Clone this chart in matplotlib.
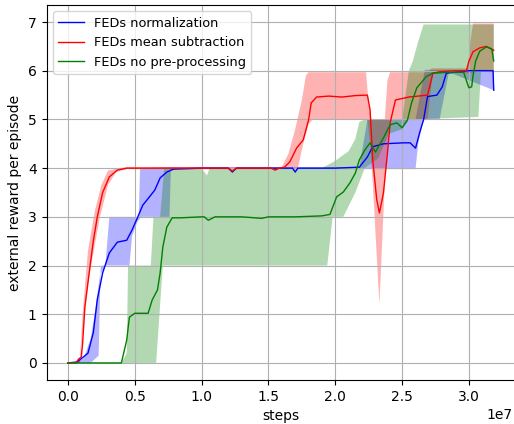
import numpy as np
import matplotlib
matplotlib.use("Agg")
import matplotlib.pyplot as plt

# steps are given in units of 1e7
# ---- FEDs normalization (blue)
norm_x = [0, 0.07, 0.15, 0.19, 0.22, 0.26, 0.31, 0.37, 0.44, 0.48, 0.52, 0.56, 0.61, 0.65,
          0.69, 0.74, 0.79, 1.0, 1.2, 1.23, 1.26, 1.5, 1.68, 1.7, 1.72, 2.0, 2.18, 2.24,
          2.28, 2.36, 2.51, 2.56, 2.6, 2.63, 2.66, 2.69, 2.76, 2.8, 2.83, 3.0, 3.18, 3.185]
norm_y = [0, 0.02, 0.2, 0.62, 1.3, 1.85, 2.26, 2.48, 2.52, 2.73, 2.98, 3.24, 3.41, 3.55,
          3.8, 3.92, 3.98, 4.0, 4.0, 3.92, 4.0, 4.0, 4.0, 3.92, 4.0, 4.0, 4.02, 4.23,
          4.44, 4.5, 4.52, 4.52, 4.41, 4.72, 4.99, 5.47, 5.5, 5.67, 5.95, 6.0, 6.0, 5.6]
norm_hi_x = [0.05, 0.12, 0.17, 0.2, 0.24, 0.28, 0.31, 0.47, 0.53, 0.54, 0.76, 2.18, 2.24,
             2.6, 2.67, 3.185]
norm_hi_y = [0, 0.1, 0.5, 1.0, 1.8, 2.0, 3.0, 3.0, 3.0, 4.0, 4.02, 4.02, 5.0,
             5.0, 6.02, 6.02]
norm_lo_x = [0.17, 0.23, 0.245, 0.25, 0.46, 0.48, 0.52, 0.55, 0.76, 0.77, 0.8, 2.6,
             2.62, 2.66, 2.78, 2.85, 3.185]
norm_lo_y = [0, 0.15, 1.95, 2.0, 2.0, 2.6, 2.9, 3.0, 3.0, 3.95, 3.98, 3.98,
             4.5, 5.0, 5.0, 5.97, 5.6]

# ---- FEDs mean subtraction (red)
mean_x = [0, 0.06, 0.08, 0.1, 0.11, 0.127, 0.165, 0.19, 0.22, 0.26, 0.31, 0.37, 0.44,
          0.8, 1.2, 1.23, 1.26, 1.52, 1.55, 1.58, 1.62, 1.66, 1.71, 1.76, 1.80, 1.82,
          1.86, 1.95, 2.05, 2.15, 2.24, 2.26, 2.28, 2.31, 2.33, 2.36, 2.39, 2.41, 2.45,
          2.55, 2.69, 2.73, 2.78, 2.9, 2.98, 3.0, 3.03, 3.08, 3.13, 3.185]
mean_y = [0, 0.0, 0.08, 0.12, 0.4, 1.15, 1.97, 2.5, 3.0, 3.5, 3.82, 3.96, 4.0,
          4.0, 4.0, 3.94, 4.0, 4.0, 3.96, 4.0, 4.02, 4.13, 4.41, 4.58, 4.99, 5.34,
          5.46, 5.48, 5.46, 5.49, 5.5, 5.2, 4.17, 3.35, 3.08, 3.49, 4.31, 4.93, 5.4,
          5.46, 5.5, 5.95, 5.98, 6.0, 6.0, 6.2, 6.39, 6.47, 6.5, 6.42]
mean_hi_x = [0.06, 0.09, 0.11, 0.15, 0.2, 0.25, 0.3, 0.38, 0.44, 1.6, 1.65, 1.7, 1.75,
             1.78, 1.8, 2.23, 2.25, 2.27, 2.37, 2.39, 2.41, 2.69, 2.72, 2.99, 3.01,
             3.03, 3.185]
mean_hi_y = [0, 0.1, 1.0, 2.3, 3.1, 3.65, 3.95, 4.0, 4.02, 4.02, 4.3, 4.8, 5.4,
             5.9, 5.97, 5.97, 5.3, 5.0, 5.0, 5.8, 5.97, 5.97, 6.05, 6.05, 6.6,
             6.97, 6.97]
mean_lo_x = [0.06, 0.09, 0.12, 0.16, 0.2, 0.24, 0.3, 0.36, 0.44, 1.6, 1.72, 1.76, 1.8,
             1.83, 2.24, 2.26, 2.28, 2.33, 2.37, 2.40, 2.41, 2.69, 2.73, 3.03, 3.06,
             3.185]
mean_lo_y = [0, 0.0, 0.9, 1.8, 2.4, 3.0, 3.65, 3.92, 3.98, 3.98, 4.0, 4.5, 4.9,
             5.0, 5.0, 4.5, 3.7, 1.2, 3.7, 4.9, 5.0, 5.0, 5.95, 5.95, 6.0, 6.0]

# ---- FEDs no pre-processing (green)
raw_x = [0, 0.4, 0.44, 0.46, 0.5, 0.6, 0.63, 0.67, 0.69, 0.71, 0.74, 0.78, 0.84, 1.0,
         1.02, 1.05, 1.1, 1.3, 1.45, 1.5, 1.7, 1.9, 1.96, 2.01, 2.06, 2.11, 2.15, 2.18,
         2.22, 2.26, 2.30, 2.36, 2.41, 2.46, 2.50, 2.54, 2.57, 2.61, 2.65, 2.68, 2.73,
         2.85, 2.96, 2.99, 3.0, 3.02, 3.03, 3.05, 3.08, 3.13, 3.17, 3.185]
raw_y = [0, 0.0, 0.47, 0.94, 1.02, 1.02, 1.29, 1.5, 1.85, 2.38, 2.79, 2.98, 2.98, 3.0,
         3.0, 2.93, 3.0, 3.0, 2.97, 3.0, 3.0, 3.02, 3.05, 3.41, 3.51, 3.7, 3.9, 4.17,
         4.37, 4.52, 4.33, 4.62, 4.89, 4.93, 4.83, 4.99, 5.34, 5.65, 5.78, 5.88, 5.95,
         5.97, 5.97, 5.72, 5.65, 5.67, 5.9, 6.2, 6.4, 6.49, 6.45, 6.2]
raw_hi_x = [0.4, 0.44, 0.45, 0.62, 0.64, 0.69, 0.72, 1.0, 1.04, 1.06, 1.6, 1.9, 2.0,
            2.1, 2.15, 2.18, 2.22, 2.5, 2.55, 2.58, 2.62, 2.66, 3.185]
raw_hi_y = [0, 0.2, 2.0, 2.0, 3.0, 3.0, 4.0, 4.0, 3.85, 4.0, 4.0, 4.0, 4.15,
            4.35, 4.6, 4.95, 5.0, 5.0, 6.0, 6.2, 6.6, 6.95, 6.95]
raw_lo_x = [0.4, 0.66, 0.71, 1.94, 1.98, 2.06, 2.15, 2.22, 2.32, 2.4, 2.5, 2.55, 3.07,
            3.09, 3.185]
raw_lo_y = [0, 0, 2.0, 2.0, 3.0, 3.0, 3.5, 4.0, 4.2, 4.7, 4.8, 5.0, 5.05,
            6.0, 6.0]

series = [
    ("FEDs normalization", "b", norm_x, norm_y, norm_hi_x, norm_hi_y, norm_lo_x, norm_lo_y),
    ("FEDs mean subtraction", "r", mean_x, mean_y, mean_hi_x, mean_hi_y, mean_lo_x, mean_lo_y),
    ("FEDs no pre-processing", "g", raw_x, raw_y, raw_hi_x, raw_hi_y, raw_lo_x, raw_lo_y),
]

fig = plt.figure(figsize=(5.14, 4.24), dpi=100)
ax = fig.add_axes([46.5/514, 44/424, 469.3/514, 375/424])

for label, c, x, y, hx, hy, lx, ly in series:
    x = np.array(x)*1e7
    ax.plot(x, y, color=c, lw=1, label=label)
    px = np.concatenate([np.array(hx)*1e7, np.array(lx[::-1])*1e7])
    py = np.concatenate([hy, ly[::-1]])
    ax.fill(px, py, color=c, alpha=0.3, lw=0)

ax.set_xlim(-0.16e7, 3.35e7)
ax.set_ylim(-0.35, 7.35)
ax.set_xlabel("steps")
ax.set_ylabel("external reward per episode")
ax.grid(True)
ax.legend(loc="upper left", fontsize=9.3)

# keep the 1e7 offset label inside the picture
fig.canvas.draw()
ax.xaxis.get_offset_text().set_x(0.993)

fig.savefig("out.png", dpi=100)
